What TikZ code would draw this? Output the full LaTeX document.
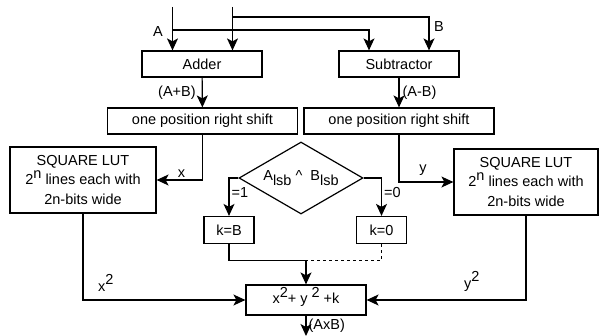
\documentclass[tikz,border=0pt]{standalone}
\usepackage{fontspec}
\setmainfont{Liberation Sans}
\usetikzlibrary{shapes.geometric,arrows.meta}
\newcommand{\suptxt}[1]{\smash{\raisebox{0.45em}{#1}}}
\newcommand{\subtxt}[1]{\raisebox{-0.35em}{#1}}
\begin{document}
\begin{tikzpicture}[
        x=1pt, y=-1pt,
        line width=1.2pt,
        >={Stealth[length=12pt,width=11pt,inset=3pt]},
        every node/.style={font=\fontsize{14.5}{19.5}\selectfont},
        block/.style={rectangle, draw, line width=1.2pt, inner sep=0pt, minimum height=26pt},
        lut/.style={rectangle, draw, line width=1.2pt, inner sep=0pt, align=center, minimum width=146pt, minimum height=66pt},
        decision/.style={diamond, draw, line width=1.2pt, inner sep=0pt, aspect=1.7, minimum width=124pt, minimum height=72pt},
        edge_label/.style={inner sep=2pt}
    ]
        \useasboundingbox (0,0) rectangle (601,336);

        % inputs
        \coordinate (inA) at (172.5,7);
        \coordinate (inB) at (232.5,7);

        % adder and subtractor
        \node[block, minimum width=120pt] (adder) at (202,64) {Adder};
        \node[block, minimum width=120pt] (subtr) at (399,64) {Subtractor};
        \draw[->] (inA) -- (inA |- adder.north);
        \draw[->] (inB) -- (inB |- adder.north);
        \draw[->] (172.5,30) -| ([xshift=-30pt]subtr.north);
        \draw[->] (232.5,17) -| ([xshift=30pt]subtr.north);
        \node[edge_label] (labA) at (158,32) {A};
        \node[edge_label] (labB) at (439,27) {B};

        % right shifts
        \node[block, minimum width=190pt] (shiftL) at (202.5,121) {one position right shift};
        \node[block, minimum width=190pt] (shiftR) at (399,121) {one position right shift};
        \draw[->] (adder) -- (shiftL) node[edge_label, midway, left=4pt] {(A+B)};
        \draw[->] (subtr) -- (shiftR) node[edge_label, midway, right=1pt] {(A-B)};

        % square look-up tables
        \node[lut] (lutL) at (83,180) {SQUARE LUT\\2\suptxt{n} lines each with\\2n-bits wide};
        \node[lut, minimum width=144pt] (lutR) at (526,182) {SQUARE LUT\\2\suptxt{n} lines each with\\2n-bits wide};
        \draw[->] (shiftL.south) |- (lutL.east) node[edge_label, pos=0.73, above] {x};
        \draw[->] (shiftR.south) |- (lutR.west) node[edge_label, pos=0.72, above=4pt] {y};

        % lsb test
        \node[decision] (test) at (301,178) {A\subtxt{lsb} \textasciicircum\ \ B\subtxt{lsb}};
        \node[block, minimum width=50pt, minimum height=27pt] (kB) at (229,230) {k=B};
        \node[block, minimum width=50pt, minimum height=27pt] (k0) at (381.5,230) {k=0};
        \draw[->] (test.west) -| (kB.north) node[edge_label, pos=0.69, right] {=1};
        \draw[->] (test.east) -| (k0.north) node[edge_label, pos=0.69, right] {=0};

        % final sum
        \node[block, minimum width=120pt, minimum height=30pt] (sum) at (306,300) {x\suptxt{2}+ y \suptxt{2} +k};
        \coordinate (join) at (306,260.5);
        \coordinate (out) at (306,336);
        \draw (kB.south) |- (join);
        \draw[dashed, line width=1pt] (k0.south) |- (join);
        \draw[->] (join) -- (sum.north);
        \draw[->] (lutL.south) |- (sum.west) node[edge_label, pos=0.57, above=6pt] {x\suptxt{2}};
        \draw[->] (lutR.south) |- (sum.east) node[edge_label, pos=0.67, above=6pt] {y\suptxt{2}};
        \draw[->] (sum.south) -- (out) node[edge_label, midway, right] {(AxB)};
    \end{tikzpicture}
\end{document}
